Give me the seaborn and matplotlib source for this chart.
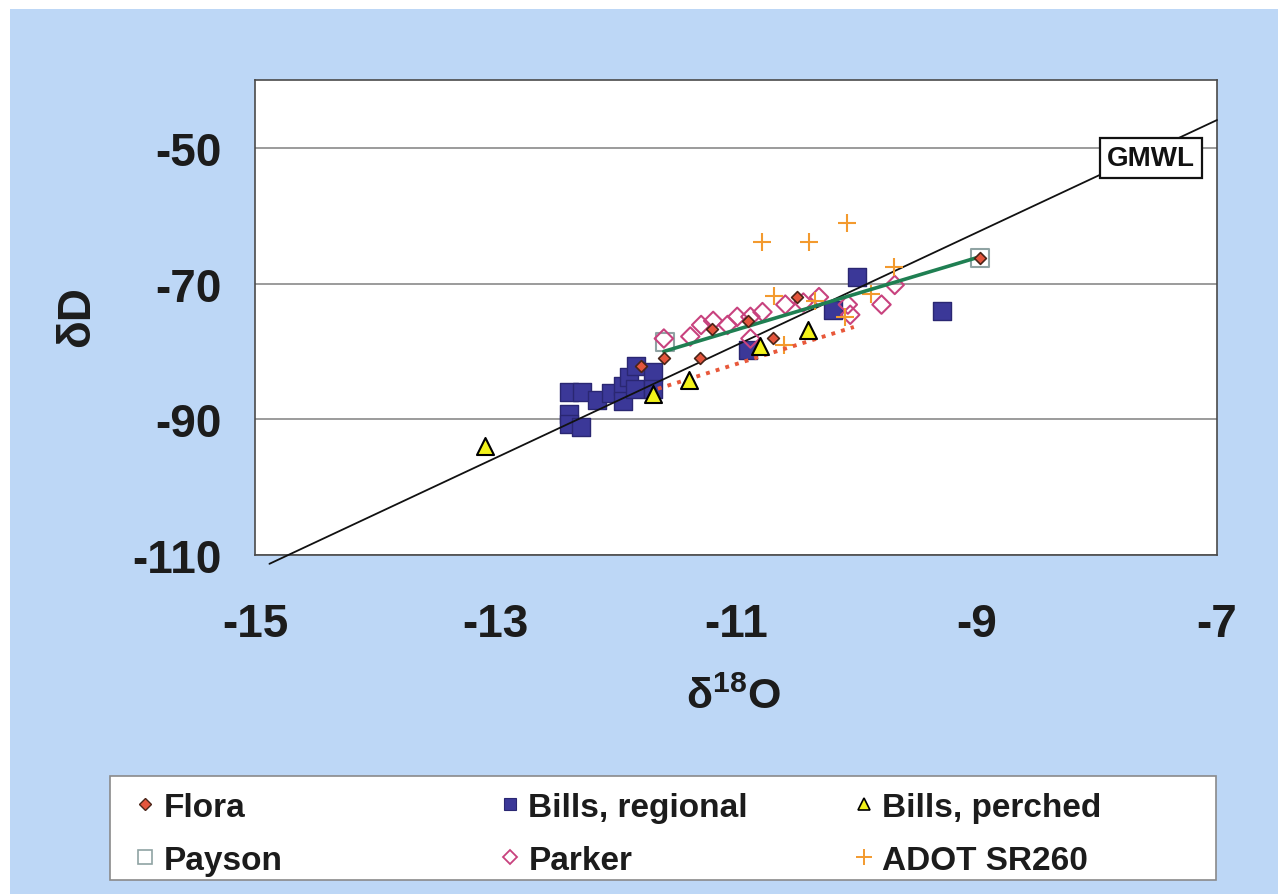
import numpy as np
import pandas as pd
import matplotlib
matplotlib.use("Agg")
import matplotlib.pyplot as plt
import seaborn as sns
from matplotlib.patches import Rectangle
from matplotlib.lines import Line2D

# ---------------- data ----------------
flora_x = [-11.79, -11.60, -11.30, -11.20, -10.90, -10.69, -10.49, -8.97]
flora_y = [-82.1, -81.0, -81.0, -76.7, -75.5, -78.0, -72.0, -66.2]

bills_reg_x = [-12.39, -12.39, -12.39, -12.29, -12.28, -12.16, -12.04, -11.94,
               -11.94, -11.89, -11.83, -11.84, -11.69, -11.69,
               -10.90, -10.19, -9.99, -9.29]
bills_reg_y = [-86.0, -89.2, -90.7, -91.1, -86.0, -87.1, -86.1, -85.1,
               -87.3, -83.7, -82.1, -85.5, -83.0, -85.5,
               -79.8, -73.9, -69.0, -74.0]

bills_per_x = [-13.09, -11.69, -11.39, -10.80, -10.40]
bills_per_y = [-94.0, -86.2, -84.2, -79.2, -76.8]

payson_x = [-11.59, -8.97]
payson_y = [-78.6, -66.2]

parker_x = [-11.60, -11.38, -11.29, -11.19, -11.07, -10.99, -10.88, -10.78,
            -10.88, -10.59, -10.44, -10.31, -10.07, -10.05, -9.79, -9.68]
parker_y = [-78.1, -77.8, -76.1, -75.5, -76.1, -74.9, -74.9, -74.2,
            -78.1, -73.1, -72.8, -72.0, -73.1, -74.6, -73.1, -70.2]

adot_x = [-10.78, -10.39, -10.08, -10.68, -10.34, -9.69, -9.88, -10.09, -10.60]
adot_y = [-63.9, -63.9, -61.0, -71.8, -72.5, -67.6, -71.5, -74.9, -79.0]

gmwl_x = [-14.88, -7.0]
gmwl_y = [-111.3, -45.9]

green_x = [-11.60, -9.00]
green_y = [-80.0, -66.2]

dotted_x = [-11.65, -10.02]
dotted_y = [-85.5, -76.4]

xticks = [-15, -13, -11, -9, -7]
yticks = [-110, -90, -70, -50]

# ---------------- style ----------------
sns.set_style("white")
plt.rcParams['font.family'] = ['Liberation Sans', 'DejaVu Sans']
plt.rcParams['font.weight'] = 'bold'
plt.rcParams['mathtext.fontset'] = 'custom'
plt.rcParams['mathtext.rm'] = 'Liberation Sans:bold'
plt.rcParams['mathtext.it'] = 'Liberation Sans:bold'
plt.rcParams['mathtext.bf'] = 'Liberation Sans:bold'

BG = '#bdd7f6'
TXT = '#1c1c1c'
C_FLORA = '#e4553c'
C_FLORA_E = '#4a2418'
C_BREG = '#3b3898'
C_BREG_E = '#2a2772'
C_BPER = '#f2f21a'
C_PARK = '#c8427e'
C_ADOT = '#f39a2e'
C_PAY = '#8fa3a3'
C_GREEN = '#1f7f52'
C_DOT = '#e8583a'

W, H = 1278, 895
fig = plt.figure(figsize=(W / 100, H / 100), dpi=100)
fig.patch.set_facecolor('white')
fig.patches.append(Rectangle((10 / W, 0), 1 - 10 / W, 1 - 10 / H,
                             transform=fig.transFigure, facecolor=BG,
                             edgecolor='none', zorder=-5))

ax = fig.add_axes([255 / W, 1 - 556 / H, (1217 - 255) / W, (556 - 81) / H])
ax.set_facecolor('white')
ax.set_zorder(1)

# series
sns.scatterplot(x=bills_reg_x, y=bills_reg_y, marker='s', s=165,
                color=C_BREG, edgecolor=C_BREG_E, linewidth=1.0, ax=ax, zorder=3)
sns.lineplot(x=gmwl_x, y=gmwl_y, color='#111111', linewidth=1.3, ax=ax,
             zorder=4, clip_on=False)
sns.scatterplot(x=payson_x, y=payson_y, marker='s', s=175,
                facecolor='none', edgecolor=C_PAY, linewidth=1.5, ax=ax, zorder=4)
sns.scatterplot(x=parker_x, y=parker_y, marker='D', s=88,
                facecolor='none', edgecolor=C_PARK, linewidth=1.5, ax=ax, zorder=4)
sns.scatterplot(x=adot_x, y=adot_y, marker='+', s=160, color=C_ADOT,
                linewidth=1.5, ax=ax, zorder=4)
sns.lineplot(x=green_x, y=green_y, color=C_GREEN, linewidth=2.6, ax=ax, zorder=5)
sns.lineplot(x=dotted_x, y=dotted_y, color=C_DOT, linewidth=2.8,
             linestyle=(0, (1, 1.6)), ax=ax, zorder=5)
sns.scatterplot(x=bills_per_x, y=bills_per_y, marker='^', s=150,
                color=C_BPER, edgecolor='black', linewidth=1.5, ax=ax, zorder=6)
sns.scatterplot(x=flora_x, y=flora_y, marker='D', s=36,
                color=C_FLORA, edgecolor=C_FLORA_E, linewidth=1.2, ax=ax, zorder=7)

# axes
ax.set_xlim(-15, -7)
ax.set_ylim(-110, -40)
ax.set_xticks(xticks)
ax.set_yticks(yticks)
ax.set_xticklabels([str(v) for v in xticks])
ax.set_yticklabels([str(v) for v in yticks])
ax.grid(False)
ax.yaxis.grid(True, color='#8a8a8a', linewidth=1.2)
ax.set_axisbelow(True)
for sp in ax.spines.values():
    sp.set_color('#4a4a4a')
    sp.set_linewidth(1.2)
ax.tick_params(axis='both', which='major', direction='out', length=6,
               width=1.0, color='#4a4a4a', labelsize=33, labelcolor=TXT)
ax.tick_params(axis='x', pad=28)
ax.tick_params(axis='y', pad=18)
for lab in ax.get_xticklabels() + ax.get_yticklabels():
    lab.set_fontweight('bold')

ax.set_xlabel(r'δ$^{18}$O', fontsize=31, fontweight='bold', color=TXT)
ax.set_ylabel('δD', fontsize=33, fontweight='bold', color=TXT)
ax.xaxis.set_label_coords(0.497, -0.255)
ax.yaxis.set_label_coords(-0.162, 0.505)

# GMWL label
ax.text(-7.55, -51.5, 'GMWL', ha='center', va='center', fontsize=20,
        fontweight='bold', color='#111111', zorder=10,
        bbox=dict(boxstyle='square,pad=0.25', fc='white', ec='#111111', lw=1.6))

# legend box
fig.patches.append(Rectangle((110 / W, 1 - 881 / H), (1216 - 110) / W, (881 - 777) / H,
                             transform=fig.transFigure, facecolor='white',
                             edgecolor='#8a8a8a', linewidth=1.2, zorder=2))

h_flora = Line2D([], [], marker='D', linestyle='none', markersize=6,
                 markerfacecolor=C_FLORA, markeredgecolor=C_FLORA_E, markeredgewidth=1.0)
h_pay = Line2D([], [], marker='s', linestyle='none', markersize=10,
               markerfacecolor='none', markeredgecolor=C_PAY, markeredgewidth=1.2)
h_breg = Line2D([], [], marker='s', linestyle='none', markersize=9,
                markerfacecolor=C_BREG, markeredgecolor=C_BREG_E, markeredgewidth=0.8)
h_park = Line2D([], [], marker='D', linestyle='none', markersize=7,
                markerfacecolor='none', markeredgecolor=C_PARK, markeredgewidth=1.3)
h_bper = Line2D([], [], marker='^', linestyle='none', markersize=9,
                markerfacecolor=C_BPER, markeredgecolor='black', markeredgewidth=1.2)
h_adot = Line2D([], [], marker='+', linestyle='none', markersize=11,
                markeredgecolor=C_ADOT, markeredgewidth=1.4)

cols = [([h_flora, h_pay], ['Flora', 'Payson'], 135),
        ([h_breg, h_park], ['Bills, regional', 'Parker'], 500),
        ([h_bper, h_adot], ['Bills, perched', 'ADOT SR260'], 854)]
for hs, ls, xl in cols:
    leg = fig.legend(hs, ls, loc='upper left', bbox_to_anchor=(xl / W, 1 - 793 / H),
                     frameon=False, borderaxespad=0, borderpad=0,
                     handlelength=0.6, handletextpad=0.25, labelspacing=0.66,
                     prop={'size': 24, 'weight': 'bold'})
    leg.set_zorder(6)
    for t in leg.get_texts():
        t.set_color(TXT)

fig.savefig('out.png', dpi=100, facecolor=fig.get_facecolor())
